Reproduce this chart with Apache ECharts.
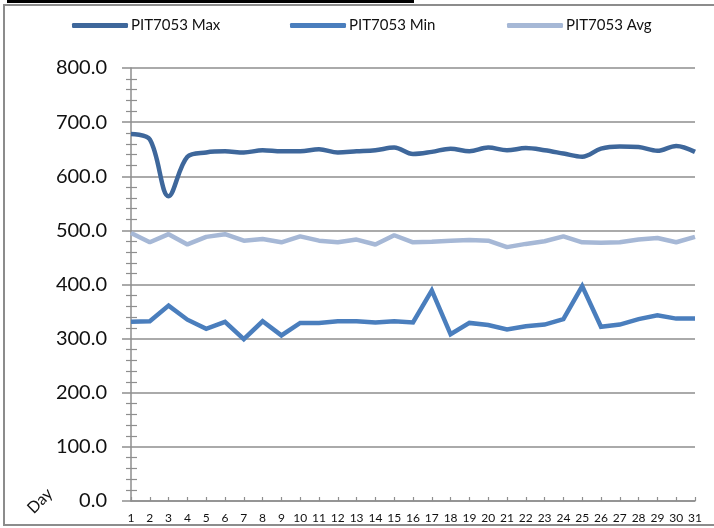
<!DOCTYPE html>
<html>
<head>
<meta charset="utf-8">
<script src="https://cdn.jsdelivr.net/npm/echarts@6/dist/echarts.min.js"></script>
<style>
html,body{margin:0;padding:0;background:#fff;}
#chart{width:714px;height:528px;}
</style>
</head>
<body>
<div id="chart"></div>
<script>
const days = ['1','2','3','4','5','6','7','8','9','10','11','12','13','14','15','16','17','18','19','20','21','22','23','24','25','26','27','28','29','30','31'];
const maxValues = [678,668,563,636,644,646,644,648,646,646,650,644,646,648,653,641,645,651,646,653,648,652,648,642,636,651,655,654,647,656,645];
const minValues = [331,332,361,335,318,331,299,332,306,329,329,332,332,330,332,330,389,308,329,325,317,323,326,336,397,322,326,336,343,337,337];
const avgValues = [495,478,493,474,488,493,481,484,478,489,481,478,483,474,491,478,479,481,482,481,469,475,480,489,478,477,478,483,486,478,488];
const seriesNames = ['PIT7053 Max','PIT7053 Min','PIT7053 Avg'];
const yTicks = {min:0, max:800, interval:100};

const chart = echarts.init(document.getElementById('chart'), null, {renderer:'canvas'});
const gridColor = '#8e8e8e';
const font = 'Lato, "Open Sans", sans-serif';
const legendLefts = [67, 285, 502];
chart.setOption({
  animation:false,
  backgroundColor:'#ffffff',
  graphic:[
    {type:'rect', shape:{x:4,y:5,width:730,height:520}, style:{fill:'none', stroke:'#8c8c8c', lineWidth:2}, z:-10},
    {type:'rect', shape:{x:7,y:0,width:407,height:3}, style:{fill:'#000'}, z:10},
    {type:'text', x:40, y:501, rotation:Math.PI/4, style:{text:'Day', font:'16px '+font, fill:'#111', align:'center', verticalAlign:'middle'}}
  ],
  legend: seriesNames.map((n,i)=>({
    top:13, left:legendLefts[i],
    itemWidth:56, itemHeight:5,
    icon:'roundRect',
    textStyle:{fontFamily:font, fontSize:15, color:'#111', padding:[0,0,0,-2]},
    data:[n]
  })),
  grid:{left:131, right:19, top:68, bottom:27, containLabel:false},
  xAxis:{
    type:'category', data:days, boundaryGap:false,
    axisLine:{lineStyle:{color:gridColor, width:1.5}},
    axisTick:{inside:true, length:4, interval:0, lineStyle:{color:gridColor, width:1.2}},
    axisLabel:{interval:0, margin:11, fontFamily:font, fontSize:12, color:'#111'},
    splitLine:{show:false}
  },
  yAxis:[
    {
      type:'value', min:yTicks.min, max:yTicks.max, interval:yTicks.interval,
      axisLine:{show:true, lineStyle:{color:gridColor, width:1.5}},
      axisTick:{show:true, inside:false, length:9, lineStyle:{color:gridColor, width:1.5}},
      minorTick:{show:true, splitNumber:5, length:5, lineStyle:{color:gridColor, width:1.2}},
      axisLabel:{margin:24, fontFamily:font, fontSize:20, color:'#111', formatter:v=>v.toFixed(1)},
      splitLine:{show:true, lineStyle:{color:gridColor, width:1.5}}
    },
    {
      type:'value', min:yTicks.min, max:yTicks.max, interval:yTicks.interval, position:'left', offset:0,
      axisLine:{show:false},
      axisTick:{show:false, inside:true},
      minorTick:{show:true, splitNumber:5, length:6, lineStyle:{color:gridColor, width:1.2}},
      axisLabel:{show:false},
      splitLine:{show:false}
    }
  ],
  series:[
    {name:seriesNames[0], type:'line', data:maxValues, smooth:0.35, showSymbol:false, symbol:'none',
     lineStyle:{color:'#3E679B', width:4.5}, itemStyle:{color:'#3E679B'}},
    {name:seriesNames[1], type:'line', data:minValues, showSymbol:false, symbol:'none',
     lineStyle:{color:'#4A7EBD', width:4.5, join:'miter'}, itemStyle:{color:'#4A7EBD'}},
    {name:seriesNames[2], type:'line', data:avgValues, showSymbol:false, symbol:'none',
     lineStyle:{color:'#A6B8D6', width:4.5}, itemStyle:{color:'#A6B8D6'}}
  ]
});
</script>
</body>
</html>
